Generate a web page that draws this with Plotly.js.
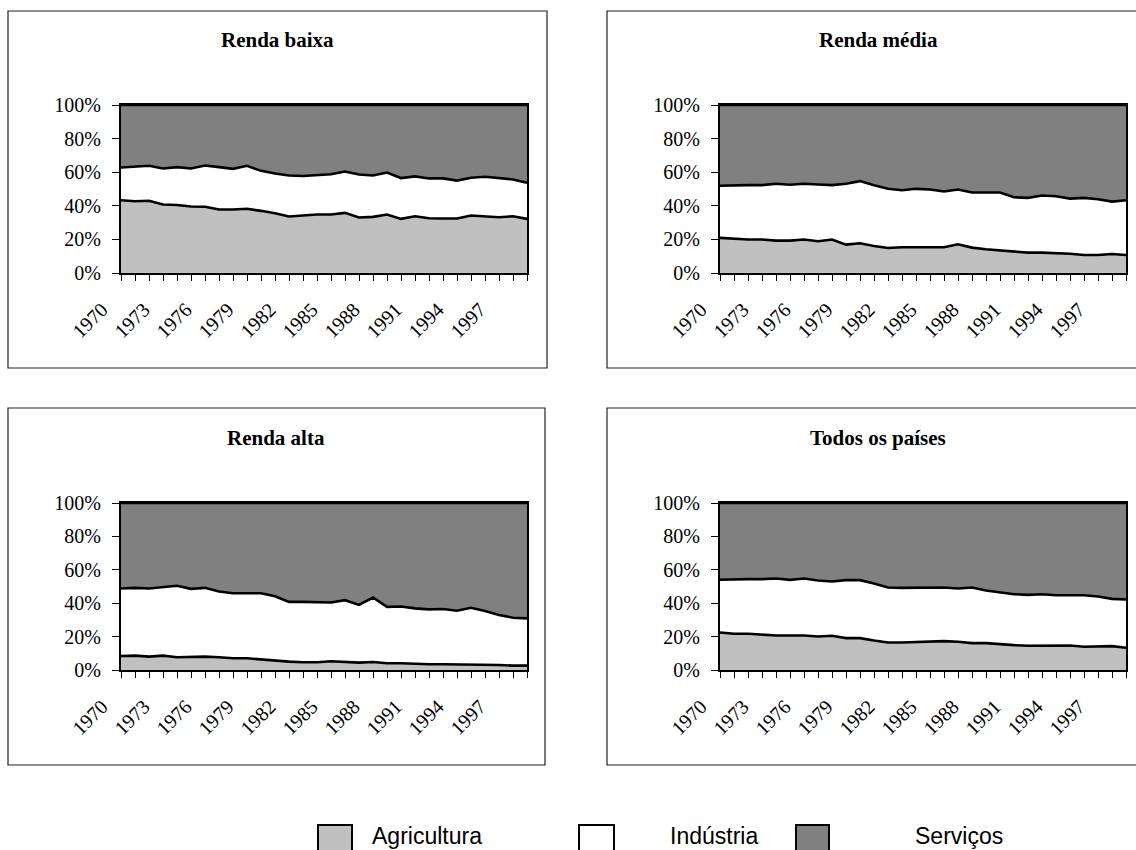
<!DOCTYPE html>
<html>
<head>
<meta charset="utf-8">
<script src="https://cdn.plot.ly/plotly-3.0.1.min.js"></script>
<style>html,body{margin:0;padding:0;background:#fff;}#chart{width:1136px;height:850px;}</style>
</head>
<body>
<div id="chart"></div>
<script>
var years = [1970,1971,1972,1973,1974,1975,1976,1977,1978,1979,1980,1981,1982,1983,1984,1985,1986,1987,1988,1989,1990,1991,1992,1993,1994,1995,1996,1997,1998,1999];
var tickLabels = ['1970','','','1973','','','1976','','','1979','','','1982','','','1985','','','1988','','','1991','','','1994','','','1997','',''];
var yTicks = [0,20,40,60,80,100];
var yTickLabels = ['0%','20%','40%','60%','80%','100%'];

var panelTitles = ['Renda baixa','Renda média','Renda alta','Todos os países'];
var seriesNames = ['Agricultura','Indústria','Serviços'];

// Renda baixa
var agricultura_baixa = [43.3,42.7,43.0,40.8,40.5,39.6,39.4,37.8,37.8,38.2,37.0,35.6,33.6,34.4,34.8,34.8,35.8,33.0,33.4,34.8,32.2,33.8,32.6,32.4,32.4,34.2,33.6,33.2,33.8,32.2];
var industria_baixa   = [19.5,20.7,20.8,21.4,22.5,22.6,24.6,25.2,24.2,25.6,23.8,23.6,24.4,23.3,23.6,24.0,24.6,25.6,24.6,25.0,24.3,23.7,23.7,23.9,22.6,22.5,23.7,23.1,21.9,21.5];
var servicos_baixa    = [37.2,36.6,36.2,37.8,37.0,37.8,36.0,37.0,38.0,36.2,39.2,40.8,42.0,42.3,41.6,41.2,39.6,41.4,42.0,40.2,43.5,42.5,43.7,43.7,45.0,43.3,42.7,43.7,44.3,46.3];

// Renda média
var agricultura_media = [20.9,20.3,19.9,19.9,19.3,19.3,19.9,18.9,19.9,16.9,17.7,16.1,14.9,15.3,15.3,14.9,15.3,17.1,15.1,14.1,13.3,12.5,12.1,12.1,11.9,11.5,10.7,10.7,11.3,10.7];
var industria_media   = [31.0,32.0,32.4,32.4,33.8,33.2,33.2,33.8,32.4,36.2,37.0,36.2,35.2,34.0,34.8,34.8,33.2,32.6,32.8,33.8,34.6,32.6,32.6,34.0,33.8,32.8,34.0,33.2,31.2,32.6];
var servicos_media    = [48.1,47.7,47.7,47.7,46.9,47.5,46.9,47.3,47.7,46.9,45.3,47.7,49.9,50.7,49.9,50.3,51.5,50.3,52.1,52.1,52.1,54.9,55.3,53.9,54.3,55.7,55.3,56.1,57.5,56.7];

// Renda alta
var agricultura_alta = [8.4,8.6,8.0,8.6,7.6,8.0,8.0,7.6,7.0,7.0,6.2,5.8,5.0,4.6,4.6,5.2,4.8,4.4,4.8,4.0,4.0,3.6,3.4,3.4,3.4,3.4,3.4,3.0,2.6,2.6];
var industria_alta   = [40.4,40.6,40.8,41.0,42.8,40.6,41.2,39.4,39.0,39.0,39.8,38.4,35.8,36.2,35.8,35.2,37.0,34.6,38.6,33.8,34.0,33.3,32.9,33.1,32.1,33.9,31.9,29.9,28.7,28.3];
var servicos_alta    = [51.2,50.8,51.2,50.4,49.6,51.4,50.8,53.0,54.0,54.0,54.0,55.8,59.2,59.2,59.6,59.6,58.2,61.0,56.6,62.2,62.0,63.1,63.7,63.5,64.5,62.7,64.7,67.1,68.7,69.1];

// Todos os países
var agricultura_todos = [22.5,21.7,21.7,21.1,20.7,20.7,20.7,20.1,20.5,19.1,19.1,17.7,16.5,16.5,16.9,16.9,17.3,16.9,16.1,16.1,15.3,14.9,14.5,14.5,14.3,14.7,13.9,13.9,14.3,13.3];
var industria_todos   = [31.5,32.7,32.7,33.3,34.1,33.3,34.1,33.5,32.5,34.7,34.7,34.1,32.9,32.7,32.5,32.3,32.1,31.9,33.3,31.5,31.3,30.5,30.5,30.9,30.5,30.3,30.9,30.1,28.3,28.9];
var servicos_todos    = [46.0,45.6,45.6,45.6,45.2,46.0,45.2,46.4,47.0,46.2,46.2,48.2,50.6,50.8,50.6,50.8,50.6,51.2,50.6,52.4,53.4,54.6,55.0,54.6,55.2,55.0,55.2,56.0,57.4,57.8];

var panelData = [
  [agricultura_baixa, industria_baixa, servicos_baixa],
  [agricultura_media, industria_media, servicos_media],
  [agricultura_alta, industria_alta, servicos_alta],
  [agricultura_todos, industria_todos, servicos_todos]
];
var fills = ['#c0c0c0','#ffffff','#808080'];

var W = 1136, H = 850;
function px(x){ return x / W; }
function py(y){ return 1 - y / H; }

// pixel geometry of panels
var plotX = [[121,527],[720,1126],[121,527],[720,1126]];
var plotY = [[105,273],[105,273],[503,670],[503,670]];
var boxes = [[8,11,547,368],[607,11,1149,368],[8,408,545,765],[607,408,1149,765]];
var titlePos = [[277,40],[878,40],[276,438],[878,438]];

var traces = [];
var layout = {
  width: W, height: H,
  margin: {l:0, r:0, t:0, b:0},
  paper_bgcolor: '#ffffff',
  plot_bgcolor: '#ffffff',
  showlegend: false,
  shapes: [],
  annotations: []
};

for (var p = 0; p < 4; p++) {
  var sfx = p === 0 ? '' : String(p + 1);
  for (var s = 0; s < 3; s++) {
    traces.push({
      type: 'scatter', mode: 'lines',
      x: years, y: panelData[p][s],
      name: seriesNames[s],
      stackgroup: 'g' + p,
      fillcolor: fills[s],
      line: {color: '#000000', width: 2.6},
      xaxis: 'x' + sfx, yaxis: 'y' + sfx,
      hoverinfo: 'skip'
    });
  }
  layout['xaxis' + sfx] = {
    domain: [px(plotX[p][0]), px(plotX[p][1])],
    anchor: 'y' + sfx,
    range: [1970, 1999],
    tickmode: 'array', tickvals: years, ticktext: tickLabels,
    tickangle: -45,
    ticklabelstandoff: 9,
    ticklabelshift: -19,
    ticks: 'outside', ticklen: 6, tickwidth: 1, tickcolor: '#000',
    showline: true, linewidth: 2, linecolor: '#000', mirror: true,
    showgrid: false, zeroline: false,
    tickfont: {family: 'Liberation Serif', size: 20, color: '#000'},
    fixedrange: true
  };
  layout['yaxis' + sfx] = {
    domain: [py(plotY[p][1]), py(plotY[p][0])],
    anchor: 'x' + sfx,
    range: [0, 100],
    tickmode: 'array', tickvals: yTicks, ticktext: yTickLabels,
    ticklabelstandoff: 7,
    ticks: 'outside', ticklen: 7, tickwidth: 1, tickcolor: '#000',
    showline: true, linewidth: 2, linecolor: '#000', mirror: true,
    showgrid: false, zeroline: false,
    tickfont: {family: 'Liberation Serif', size: 20, color: '#000'},
    fixedrange: true
  };
  var b = boxes[p];
  layout.shapes.push({
    type: 'rect', xref: 'paper', yref: 'paper',
    x0: px(b[0]), x1: px(b[2]), y0: py(b[3]), y1: py(b[1]),
    line: {color: '#222', width: 1.2}, fillcolor: 'rgba(0,0,0,0)', layer: 'below'
  });
  layout.annotations.push({
    xref: 'paper', yref: 'paper',
    x: px(titlePos[p][0]), y: py(titlePos[p][1]),
    xanchor: 'center', yanchor: 'middle', showarrow: false,
    text: panelTitles[p],
    font: {family: 'Liberation Serif', size: 21, color: '#000', weight: 'bold'}
  });
}

// legend
var legSquares = [[318,352],[579,614],[796,829]];
var legTextX = [370, 668, 913];
for (var i = 0; i < 3; i++) {
  layout.shapes.push({
    type: 'rect', xref: 'paper', yref: 'paper',
    x0: px(legSquares[i][0]), x1: px(legSquares[i][1]), y0: py(858), y1: py(825),
    line: {color: '#000', width: 2}, fillcolor: fills[i]
  });
  layout.annotations.push({
    xref: 'paper', yref: 'paper',
    x: px(legTextX[i]), y: py(836),
    xanchor: 'left', yanchor: 'middle', showarrow: false,
    text: seriesNames[i],
    font: {family: 'Liberation Sans', size: 23, color: '#000'}
  });
}

Plotly.newPlot('chart', traces, layout, {displayModeBar: false, staticPlot: true});
</script>
</body>
</html>
